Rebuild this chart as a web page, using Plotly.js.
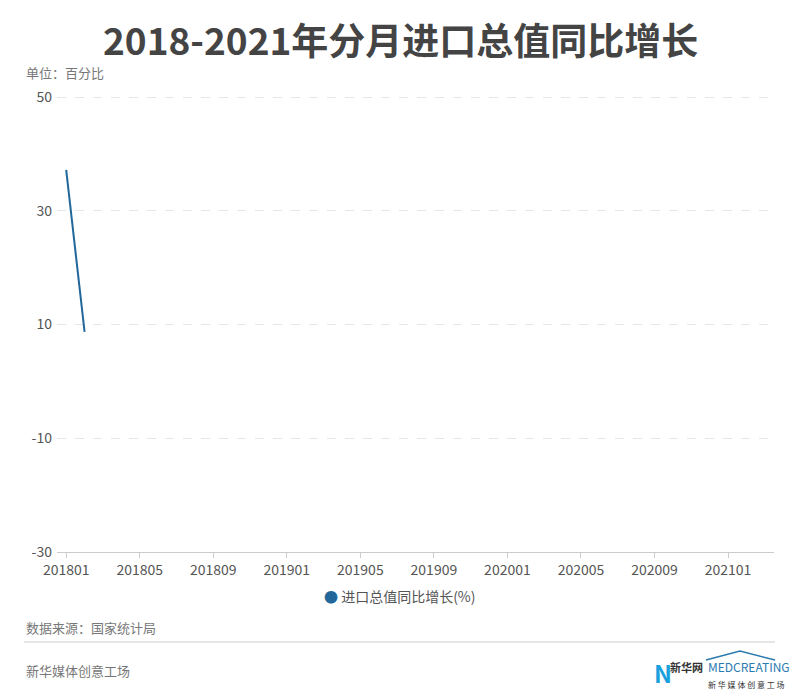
<!DOCTYPE html>
<html>
<head>
<meta charset="utf-8">
<script src="https://cdn.plot.ly/plotly-3.0.1.min.js"></script>
<style>
  html, body { margin: 0; padding: 0; background: #fff; }
  #chart { width: 800px; height: 700px; }
</style>
</head>
<body>
<div id="chart"></div>
<script>
// ---- data ----
const months = [
  '201801','201802','201803','201804','201805','201806','201807','201808','201809','201810','201811','201812',
  '201901','201902','201903','201904','201905','201906','201907','201908','201909','201910','201911','201912',
  '202001','202002','202003','202004','202005','202006','202007','202008','202009','202010','202011','202012',
  '202101','202102','202103'
];
const seriesMonths = ['201801', '201802'];
const seriesValues = [37.2, 8.7];
const seriesName = '进口总值同比增长(%)';
const tickMonths = ['201801','201805','201809','201901','201905','201909','202001','202005','202009','202101'];
const yTicks = [-30, -10, 10, 30, 50];
const yTickText = ['-30', '-10', '10', '30', '50'];

const FONT = '"Noto Sans CJK SC", "Noto Sans", sans-serif';
const LINE_COLOR = '#21679a';

const trace = {
  x: seriesMonths.map(m => months.indexOf(m)),
  y: seriesValues,
  type: 'scatter',
  mode: 'lines',
  name: seriesName,
  line: { color: LINE_COLOR, width: 2 },
  showlegend: false,
  hoverinfo: 'skip'
};

// helpers: pixel -> paper
const L = 57, R = 774, T = 96, B = 552;
const px = x => (x - L) / (R - L);
const py = y => (B - y) / (B - T);

const layout = {
  width: 800, height: 700,
  margin: { l: L, r: 800 - R, t: T, b: 700 - B },
  paper_bgcolor: '#fff',
  plot_bgcolor: '#fff',
  font: { family: FONT, color: '#555', size: 14 },
  showlegend: false,
  xaxis: {
    type: 'linear',
    range: [-0.5, months.length - 0.5],
    tickvals: tickMonths.map(m => months.indexOf(m)),
    ticktext: tickMonths,
    showgrid: false,
    zeroline: false,
    showline: true,
    linecolor: '#cccccc',
    linewidth: 1,
    ticks: 'outside',
    ticklen: 5,
    tickcolor: '#cccccc',
    tickfont: { size: 14, color: '#555', family: FONT },
    fixedrange: true
  },
  yaxis: {
    range: [-30, 50.2],
    tickvals: yTicks,
    ticktext: yTickText,
    showgrid: true,
    gridcolor: '#e6e6e6',
    griddash: 'dash',
    gridwidth: 1,
    zeroline: false,
    showline: false,
    ticks: '',
    ticklabelstandoff: 4,
    tickfont: { size: 14, color: '#555', family: FONT },
    fixedrange: true
  },
  annotations: [
    { text: '<b>2018-2021年分月进口总值同比增长</b>', xref: 'paper', yref: 'paper',
      x: px(400), y: py(39), xanchor: 'center', yanchor: 'middle', showarrow: false,
      font: { size: 37, color: '#444', family: FONT } },
    { text: '单位：百分比', xref: 'paper', yref: 'paper',
      x: px(24), y: py(73), xanchor: 'left', yanchor: 'middle', showarrow: false,
      font: { size: 13, color: '#777', family: FONT } },
    { text: '<span style="color:' + LINE_COLOR + '">●</span> ' + seriesName, xref: 'paper', yref: 'paper',
      x: px(322), y: py(596), xanchor: 'left', yanchor: 'middle', showarrow: false,
      font: { size: 14, color: '#555', family: FONT } },
    { text: '数据来源：国家统计局', xref: 'paper', yref: 'paper',
      x: px(24), y: py(627), xanchor: 'left', yanchor: 'middle', showarrow: false,
      font: { size: 13, color: '#777', family: FONT } },
    { text: '新华媒体创意工场', xref: 'paper', yref: 'paper',
      x: px(24), y: py(670), xanchor: 'left', yanchor: 'middle', showarrow: false,
      font: { size: 13, color: '#777', family: FONT } },
    { text: '<b>新华网</b>', xref: 'paper', yref: 'paper',
      x: px(668), y: py(667), xanchor: 'left', yanchor: 'middle', showarrow: false,
      font: { size: 11, color: '#333', family: FONT } },
    { text: '<b>N</b>', xref: 'paper', yref: 'paper',
      x: px(652), y: py(672), xanchor: 'left', yanchor: 'middle', showarrow: false,
      font: { size: 24, color: '#1aa0dc', family: FONT } },
    { text: 'MEDCREATING', xref: 'paper', yref: 'paper',
      x: px(706), y: py(666), xanchor: 'left', yanchor: 'middle', showarrow: false,
      font: { size: 12, color: '#2a7ab0', family: FONT } },
    { text: '新 华 媒 体 创 意 工 场', xref: 'paper', yref: 'paper',
      x: px(706), y: py(684), xanchor: 'left', yanchor: 'middle', showarrow: false,
      font: { size: 8, color: '#333', family: FONT } }
  ],
  shapes: [
    { type: 'line', xref: 'paper', yref: 'paper', x0: px(24), x1: px(775), y0: py(642), y1: py(642),
      line: { color: '#cccccc', width: 1 } },
    { type: 'path', xref: 'paper', yref: 'paper',
      path: 'M ' + px(706) + ' ' + py(660) + ' L ' + px(740) + ' ' + py(651) + ' L ' + px(775) + ' ' + py(660),
      line: { color: '#2a7ab0', width: 1.5 } }
  ]
};

Plotly.newPlot('chart', [trace], layout, { displayModeBar: false, staticPlot: true });
</script>
</body>
</html>
